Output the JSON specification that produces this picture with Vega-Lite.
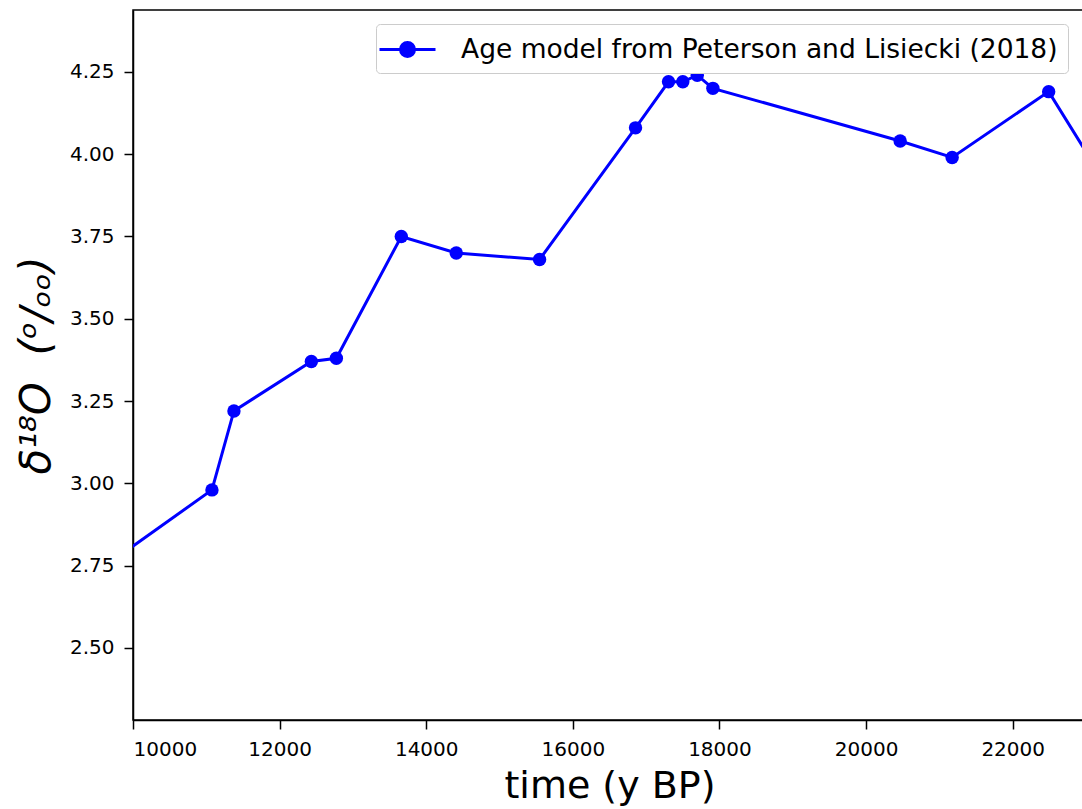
{
  "$schema": "https://vega.github.io/schema/vega-lite/v6.json",
  "autosize": {"type": "none"},
  "padding": {"left": 133, "top": 10, "right": 0, "bottom": 89},
  "width": 953,
  "height": 710,
  "background": "white",
  "config": {
    "font": "DejaVu Sans",
    "view": {"stroke": "black", "strokeWidth": 1.5},
    "axis": {
      "grid": false,
      "domainColor": "black",
      "domainWidth": 1.5,
      "tickColor": "black",
      "tickWidth": 1.5,
      "tickSize": 9,
      "labelColor": "black",
      "labelFontSize": 20,
      "labelFont": "DejaVu Sans",
      "labelPadding": 10,
      "titleColor": "black",
      "titleFont": "DejaVu Sans",
      "titleFontWeight": "normal"
    }
  },
  "data": {
    "values": [
      {"t": 9500, "d18O": 2.73, "series": "Age model from Peterson and Lisiecki (2018)"},
      {"t": 11077, "d18O": 2.98, "series": "Age model from Peterson and Lisiecki (2018)"},
      {"t": 11377, "d18O": 3.22, "series": "Age model from Peterson and Lisiecki (2018)"},
      {"t": 12433, "d18O": 3.37, "series": "Age model from Peterson and Lisiecki (2018)"},
      {"t": 12774, "d18O": 3.38, "series": "Age model from Peterson and Lisiecki (2018)"},
      {"t": 13660, "d18O": 3.75, "series": "Age model from Peterson and Lisiecki (2018)"},
      {"t": 14410, "d18O": 3.70, "series": "Age model from Peterson and Lisiecki (2018)"},
      {"t": 15546, "d18O": 3.68, "series": "Age model from Peterson and Lisiecki (2018)"},
      {"t": 16855, "d18O": 4.08, "series": "Age model from Peterson and Lisiecki (2018)"},
      {"t": 17305, "d18O": 4.22, "series": "Age model from Peterson and Lisiecki (2018)"},
      {"t": 17500, "d18O": 4.22, "series": "Age model from Peterson and Lisiecki (2018)"},
      {"t": 17697, "d18O": 4.24, "series": "Age model from Peterson and Lisiecki (2018)"},
      {"t": 17910, "d18O": 4.20, "series": "Age model from Peterson and Lisiecki (2018)"},
      {"t": 20465, "d18O": 4.04, "series": "Age model from Peterson and Lisiecki (2018)"},
      {"t": 21174, "d18O": 3.99, "series": "Age model from Peterson and Lisiecki (2018)"},
      {"t": 22491, "d18O": 4.19, "series": "Age model from Peterson and Lisiecki (2018)"},
      {"t": 23200, "d18O": 3.935, "series": "Age model from Peterson and Lisiecki (2018)"}
    ]
  },
  "encoding": {
    "x": {
      "field": "t",
      "type": "quantitative",
      "scale": {"domain": [10000, 23000], "nice": false, "zero": false},
      "axis": {
        "title": "time (y BP)",
        "titleFontSize": 38,
        "titlePadding": 8,
        "values": [10000, 12000, 14000, 16000, 18000, 20000, 22000],
        "format": "d"
      }
    },
    "y": {
      "field": "d18O",
      "type": "quantitative",
      "scale": {"domain": [2.281, 4.438], "nice": false, "zero": false},
      "axis": {
        "title": "δ¹⁸O\u00a0\u00a0(ᵒ/ₒₒ)",
        "titleFontSize": 42,
        "titleFontStyle": "italic",
        "titlePadding": 11,
        "values": [2.5, 2.75, 3.0, 3.25, 3.5, 3.75, 4.0, 4.25],
        "format": ".2f"
      }
    },
    "color": {
      "field": "series",
      "type": "nominal",
      "scale": {"range": ["#0000ff"]},
      "legend": {
        "title": null,
        "orient": "none",
        "legendX": 243,
        "legendY": 14,
        "symbolType": "M-2,0H2M-0.5,0A0.5,0.5 0 1,1 0.5,0A0.5,0.5 0 1,1 -0.5,0",
        "symbolSize": 784,
        "symbolOffset": 6,
        "symbolStrokeWidth": 3,
        "symbolFillColor": "#0000ff",
        "symbolStrokeColor": "#0000ff",
        "labelFontSize": 26.5,
        "labelFont": "DejaVu Sans",
        "labelColor": "black",
        "labelOffset": 38,
        "padding": 10,
        "strokeColor": "#cccccc",
        "fillColor": "white",
        "cornerRadius": 4,
        "labelLimit": 1000
      }
    }
  },
  "layer": [
    {"mark": {"type": "line", "clip": true, "strokeWidth": 3}},
    {"mark": {"type": "point", "filled": true, "size": 180, "opacity": 1, "clip": true}}
  ]
}
